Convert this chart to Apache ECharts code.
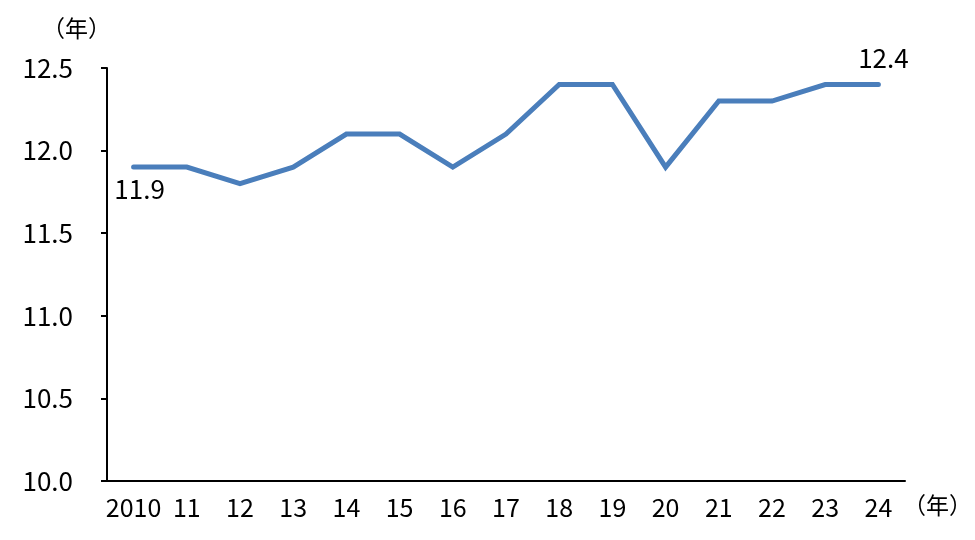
<!DOCTYPE html>
<html><head><meta charset="utf-8">
<script src="https://cdn.jsdelivr.net/npm/echarts@6/dist/echarts.min.js"></script>
<style>html,body{margin:0;padding:0;background:#fff}#c{width:975px;height:540px}</style>
</head><body><div id="c"></div>
<script>
const categories = ['2010','11','12','13','14','15','16','17','18','19','20','21','22','23','24'];
const values = [11.9, 11.9, 11.8, 11.9, 12.1, 12.1, 11.9, 12.1, 12.4, 12.4, 11.9, 12.3, 12.3, 12.4, 12.4];
const yUnit = '（年）';
const xUnit = '（年）';
const labeledIdx = {0: 'bottom', 14: 'top'};

const FONT = '"Noto Sans CJK JP", sans-serif';
const data = values.map((v, i) => {
  if (labeledIdx[i]) {
    const bottom = labeledIdx[i] === 'bottom';
    return { value: v, label: { show: true, position: labeledIdx[i], distance: bottom ? 9 : 13, offset: [bottom ? 6 : 5, 0],
      formatter: p => p.value.toFixed(1), color: '#000', fontSize: 26, fontFamily: FONT } };
  }
  return v;
});

const chart = echarts.init(document.getElementById('c'), null, {renderer: 'canvas'});
chart.setOption({
  animation: false,
  grid: { left: 107, right: 70, top: 68, bottom: 59 },
  graphic: [
    { type: 'text', left: 42, top: 17, style: { text: yUnit, fontSize: 23, fontFamily: FONT, fill: '#000' } },
    { type: 'text', left: 903, top: 494, style: { text: xUnit, fontSize: 23, fontFamily: FONT, fill: '#000' } }
  ],
  xAxis: {
    type: 'category', data: categories, boundaryGap: true,
    axisLine: { lineStyle: { color: '#000', width: 2 } },
    axisTick: { show: false },
    axisLabel: { color: '#000', fontSize: 25, fontFamily: FONT, margin: 14, interval: 0 }
  },
  yAxis: {
    type: 'value', min: 10, max: 12.5, interval: 0.5,
    axisLine: { show: true, lineStyle: { color: '#000', width: 2 } },
    axisTick: { show: true, inside: false, length: 6, lineStyle: { color: '#000', width: 2 } },
    splitLine: { show: false },
    axisLabel: { color: '#000', fontSize: 26, fontFamily: FONT, margin: 34, formatter: v => v.toFixed(1) }
  },
  series: [{
    type: 'line', data: data, symbol: 'circle', symbolSize: 0, showSymbol: true,
    lineStyle: { color: '#4a7ebb', width: 5, cap: 'round', join: 'miter' },
    itemStyle: { color: '#4a7ebb' }
  }]
});
</script></body></html>
